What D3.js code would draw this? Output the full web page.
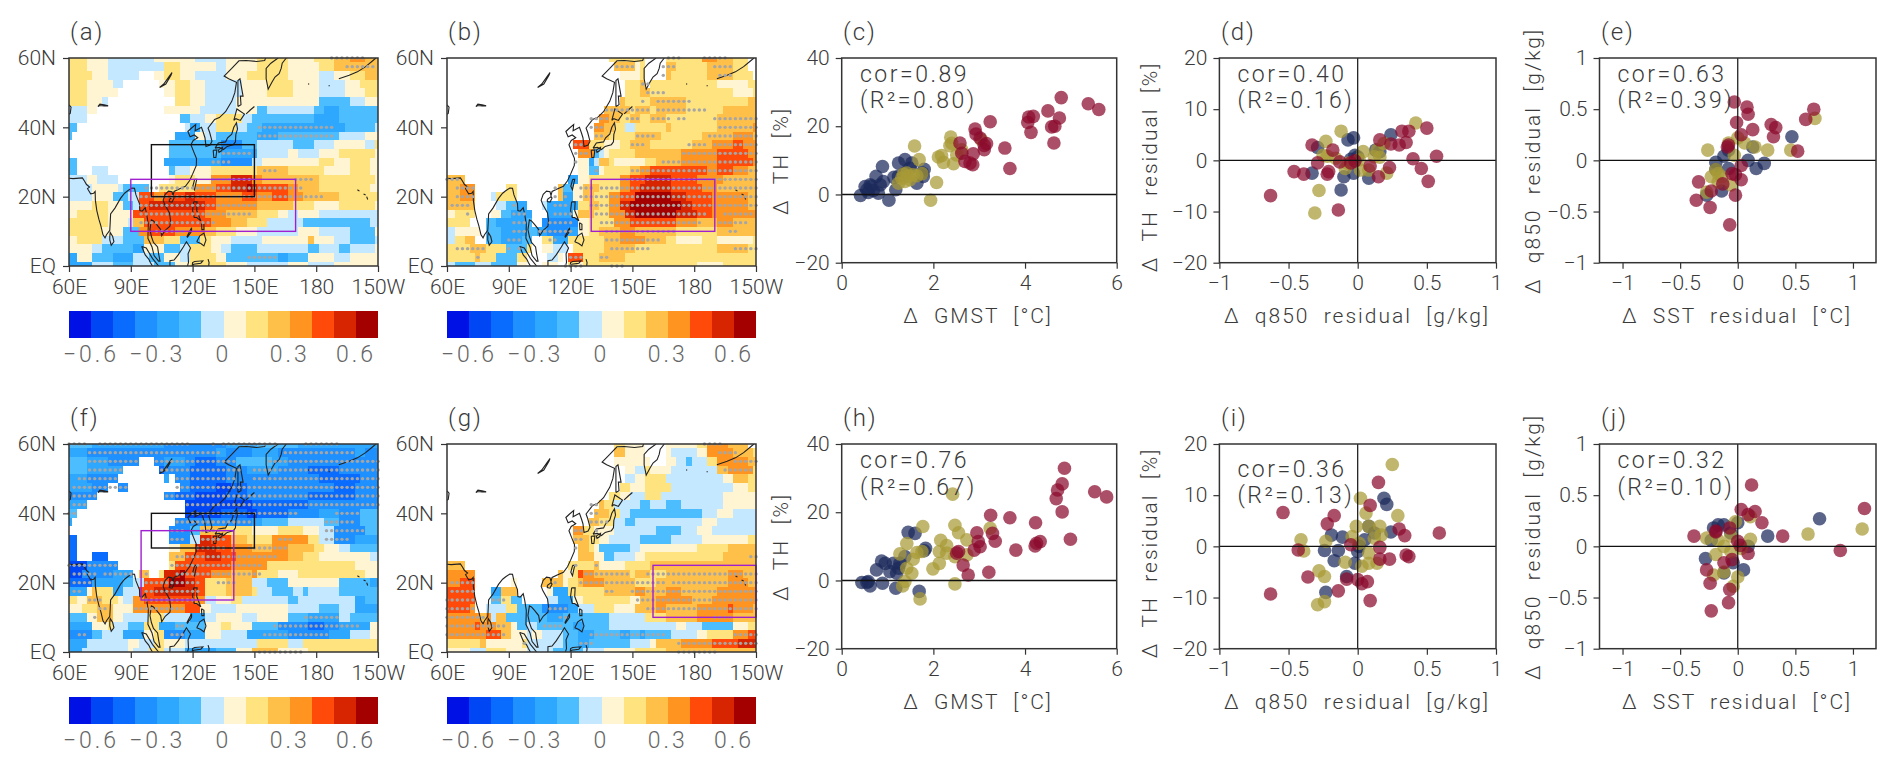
<!DOCTYPE html>
<html><head><meta charset="utf-8">
<script src="https://cdn.jsdelivr.net/npm/d3@7"></script>
<style>
html,body{margin:0;padding:0;background:#fff;overflow:hidden}
text{font-family:Roboto,"Liberation Sans",sans-serif;font-weight:300;fill:#3a3a3a;white-space:pre}
</style></head><body><svg id="c" width="1892" height="767"></svg>
<script>
// ---------- colour levels ----------
const levelBreaks=[-0.6,-0.5,-0.4,-0.3,-0.2,-0.1,0,0.1,0.2,0.3,0.4,0.5,0.6];
const levelColors=["#0011e6","#0046f5","#0a6cff","#1e90ff","#2ea8ff","#4cbdff","#c4e8ff","#fff5d2","#ffe37f","#ffc04a","#ff9520","#ff4a0a","#d62500","#a50000"];
const levelCodes="abcdefghijklmn";
const colorbarTicks=[-0.6,-0.3,0,0.3,0.6];
const lonTicks=[60,90,120,150,180,210];
const lonLabels=["60E","90E","120E","150E","180","150W"];
const latTicks=[0,20,40,60];
const latLabels=["EQ","20N","40N","60N"];

// ---------- gridded fields: rows from 60N to EQ, "level + last lon of the run" ----------
const mapA=[
"i67 h77 g100 h120 g135 h150 i165 h177 i187 j195 k202 j210",
"i67 h77 g105 i112 h130 g135 h150 i165 h180 i187 j210",
"i70 h77 g92 .100 h105 i112 h120 g135 h145 i165 h180 g187 h195 i202 j210",
"i67 h80 g85 .102 h110 i117 h125 g142 h155 i167 h180 g192 h200 i210",
"i67 h82 .105 h110 i117 h125 g142 h155 i167 h180 g192 h202 i210",
"i67 h75 g77 .110 i117 h125 g140 h165 h180 f195 g202 h210",
"g67 h72 .105 h122 g140 h150 f155 g177 f182 e190 f210",
"g67 .112 f117 g125 h130 i142 g147 f177 e190 f210",
"f62 .115 g117 e122 g130 i140 g145 f152 e192 f207 g210",
"f60 .110 e120 h125 g130 f150 e160 f190 g202 h210",
".107 f120 f132 d142 f150 g167 f177 g187 h202 g207 i210",
".107 f117 f132 e150 g165 h170 g180 h190 i207 h210",
"f62 .105 e117 e132 d147 g152 h165 h180 i187 h195 i205 h210",
"f62 .70 g77 .107 f110 g117 h127 i135 i150 j165 i182 h195 i205 h210",
"g67 h72 g82 .107 h110 i120 h127 k137 m147 k152 j165 j180 i207 h210",
"g70 h82 g85 f90 f97 .102 i120 k130 l137 m145 n147 m150 l165 k170 j180 i205 h210",
"g70 h80 f87 g92 l100 k105 l115 m120 l130 k142 l150 k157 l165 k172 j190 i210",
"h62 h70 i77 h85 f90 g92 l97 m125 l130 k150 j167 i177 h190 i207 h210",
"h62 i77 h85 h90 l97 l125 k135 j150 i160 h165 g170 h180 g210",
"i77 h87 g90 j95 l127 k137 j145 i155 g172 f205 g210",
"i75 h85 f92 k97 l110 k125 j130 i140 h150 g170 h180 g195 f207 h210",
"h62 i75 g85 f95 j105 i112 f122 i127 h137 g152 h175 j177 h187 g195 f207 g210",
"h70 g75 f90 e95 h105 f112 g117 i127 h132 g137 f150 g175 f180 g190 f195 g207 h210",
"e62 h70 f80 e90 g97 f105 h112 g117 i130 h135 f160 e165 f175 h187 g195 h210",
"e70 g80 f90 g100 f110 h117 i135 h145 g165 h175 g187 h210"];
const stipA=[[60,187.5,202.5],[57.5,195,207.5],[40,152.5,187.5],[37.5,152.5,187.5],[32.5,135,147.5],[30,130,137.5],[27.5,155,160],[25,130,147.5],[25,170,177.5],[22.5,97.5,172.5],[20,95,182.5],[17.5,95,150],[15,95,147.5],[12.5,95,130],[10,102.5,115],[2.5,147.5,160]];

const mapB=[
".137 i142 i155 .165 i182 k190 j197 i205 .210",
".140 j150 h152 i155 .165 j170 i185 j197 i205 .210",
".142 h152 i155 .165 j167 i185 j197 i207 .210",
".145 i152 j155 .157 i190 h205 i210",
".145 i152 j157 i177 i197 h207 i210",
".142 j145 i150 i157 j175 i205 j210",
".135 j147 i150 j157 i160 j175 i182 i192 j210",
".132 k137 j142 i147 j152 i157 j165 i190 j210",
".130 k135 j140 i145 g150 i165 j167 i190 j207 k210",
".130 j137 i150 j162 i182 j197 k207 j210",
".120 l127 i135 h142 i147 j157 i177 j187 k197 l202 k210",
".122 k130 f132 g135 h137 i150 j165 j172 k190 l205 k210",
".122 h127 e130 g132 j137 i140 h155 i160 j172 k190 l207 k210",
".122 h127 f132 h135 i140 i147 j152 k157 l185 k190 l197 k205 j210",
"j67 .117 e122 h127 i135 i142 k147 l155 m167 l180 k192 j210",
"j65 k72 .87 i92 .112 j115 f120 h125 j132 i142 k147 l152 m167 l182 k190 j210",
"j65 k72 .80 g82 i92 .112 j115 e120 h125 j130 i137 k142 l150 n167 m175 l187 k205 j210",
"j72 .82 g87 f92 e97 .105 g107 e122 i127 j132 i137 k142 m147 n172 m177 l187 k205 j210",
"h62 i72 .80 h85 f90 e100 .107 e120 h122 j130 i137 k145 m150 n170 m180 l187 k210",
"i70 .77 f82 e97 f100 .105 d122 h127 i140 k147 l170 k180 j190 k197 j210",
"g62 h75 .77 f85 e97 f102 e107 d117 e122 h127 i132 j142 k150 j170 i190 j210",
"g62 i67 j72 .77 f85 e95 f100 .105 i110 e117 i135 j142 k155 j165 i170 h182 i190 h207 i210",
"i70 j77 i87 f97 i100 .105 h110 g117 .120 i135 j150 i190 j205 i210",
"i72 j75 i82 f92 i97 .107 g112 h115 .117 l125 i132 j145 i210",
"g62 f72 g80 f92 h97 .105 h112 .117 i122 h125 i180 h192 i210"];
const stipB=[[60,167.5,172.5],[60,185,195],[57.5,142.5,150],[57.5,165,170],[57.5,190,197.5],[55,165,165],[55,192.5,197.5],[52.5,155,157.5],[50,157.5,165],[47.5,155,155],[47.5,162.5,177.5],[45,137.5,150],[45,152.5,157.5],[45,162.5,185],[42.5,130,137.5],[42.5,147.5,152.5],[42.5,160,167.5],[42.5,172.5,175],[42.5,190,210],[40,130,135],[40,192.5,210],[37.5,132.5,135],[37.5,152.5,160],[37.5,187.5,210],[35,122.5,125],[35,150,155],[35,177.5,185],[35,190,210],[32.5,122.5,127.5],[32.5,175,210],[30,122.5,122.5],[30,165,210],[27.5,132.5,132.5],[27.5,150,210],[25,60,65],[25,145,210],[22.5,65,72.5],[22.5,112.5,112.5],[22.5,125,130],[22.5,135,210],[20,65,72.5],[20,112.5,112.5],[20,117.5,117.5],[20,125,130],[20,132.5,210],[17.5,62.5,70],[17.5,92.5,92.5],[17.5,112.5,117.5],[17.5,130,190],[17.5,192.5,210],[15,70,70],[15,92.5,97.5],[15,112.5,120],[15,132.5,185],[15,195,207.5],[12.5,92.5,97.5],[12.5,110,120],[12.5,135,182.5],[12.5,192.5,205],[10,92.5,97.5],[10,105,120],[10,137.5,170],[10,197.5,200],[7.5,90,95],[7.5,110,112.5],[7.5,137.5,162.5],[5,65,77.5],[5,90,90],[5,95,95],[5,140,157.5],[5,200,210],[2.5,75,75],[2.5,120,125],[2.5,135,137.5],[0,117.5,125],[0,140,145]];

const mapF=[
"f70 e105 d135 e150 f170 e210",
"e67 d130 e135 d147 e160 d197 e202 d210",
"f67 e77 d92 .100 d105 e115 d120 c130 d140 f157 e165 d210",
"f67 e85 .102 c105 d117 c135 d145 e160 d175 c190 d210",
"e67 d82 .105 e107 .110 d117 c135 d180 c200 d210",
"e70 d77 .82 d87 .112 d117 c130 b137 c145 d187 c197 d210",
"d72 .105 d110 c120 b135 c145 d175 c197 d210",
"e67 .115 b147 c175 d210",
"f62 .115 b132 c145 b150 c165 d180 e190 d200 f210",
"e60 .110 d147 e152 f165 g182 f190 d200 f210",
".107 d117 f122 j135 i147 h160 i172 h180 g187 d202 f210",
"c62 .107 d117 g122 m127 l137 j145 i157 k175 i180 g187 d197 e210",
"c62 .107 h112 j120 m130 l137 k147 j157 k165 j177 i182 h190 g195 f210",
"c62 .70 c77 .107 j115 l125 m132 l140 k147 k165 j172 i180 h205 g210",
"b67 d82 .107 i110 l137 k145 k155 i165 i197 h210",
"b65 d80 e90 .92 j97 .102 i105 m112 n115 l127 k137 j147 k150 i160 h170 i202 h210",
"c70 e85 f90 g95 l107 n115 m120 l125 i135 j147 g155 f165 h190 f205 e210",
"e67 h70 j72 i80 e85 g92 l100 m120 l125 i135 j147 i150 g157 f167 g172 f175 g190 f210",
"i62 h67 j75 i82 h85 g90 k95 l120 k125 g130 h137 i142 g165 f170 g197 e202 f210",
"h65 i72 j80 h90 k115 l122 h127 g140 h165 g180 f190 g197 e210",
"f67 h72 j80 h85 g97 i105 g117 e125 g130 h142 g150 h165 f175 e190 g195 f210",
"e70 h77 i80 g87 f95 i102 e110 f125 h132 i137 h147 f160 d175 c182 d190 e205 h210",
"d70 f75 g85 e95 h100 i105 d115 e125 h132 g145 e165 d185 e195 g205 h210",
"e67 g87 h92 g100 i105 h115 g137 g150 i165 g172 i210",
"e65 g87 h90 g97 i105 g115 e130 f140 h147 j160 h175 i210"];
const stipF=[[60,60,67.5],[60,75,117.5],[60,130,130],[60,135,160],[60,175,190],[57.5,70,132.5],[57.5,165,197.5],[55,70,92.5],[55,102.5,140],[55,157.5,210],[52.5,70,85],[52.5,105,142.5],[52.5,150,210],[50,65,82.5],[50,112.5,140],[50,150,210],[47.5,62.5,80],[47.5,82.5,87.5],[47.5,112.5,210],[45,62.5,72.5],[45,107.5,210],[42.5,62.5,67.5],[42.5,117.5,210],[40,60,62.5],[40,120,170],[40,190,200],[37.5,112.5,147.5],[37.5,185,197.5],[35,110,115],[35,125,132.5],[35,185,202.5],[32.5,110,115],[32.5,125,135],[32.5,162.5,167.5],[32.5,185,195],[30,122.5,135],[30,147.5,165],[27.5,112.5,160],[25,60,82.5],[25,110,152.5],[22.5,62.5,72.5],[22.5,77.5,90],[22.5,97.5,97.5],[22.5,112.5,152.5],[20,62.5,70],[20,97.5,122.5],[20,132.5,140],[17.5,62.5,65],[17.5,97.5,122.5],[15,70,75],[15,97.5,120],[12.5,75,77.5],[12.5,92.5,115],[10,72.5,72.5],[10,175,190],[7.5,112.5,115],[7.5,160,200],[5,65,67.5],[5,110,115],[5,155,185],[0,152.5,172.5]];

const mapG=[
".140 i145 h155 .165 h180 i185 k195 j205 .210",
".140 j145 h155 .165 h167 g180 h185 k197 j207 i210",
".140 h157 .165 h170 g175 f177 g185 i190 k205 j210",
".145 h150 g155 i157 h167 g190 j195 k207 i210",
".145 g150 h155 i165 g192 h197 j205 i210",
".142 i147 h155 i167 g197 h205 i210",
".137 i142 h147 g155 i162 g192 h210",
".132 j135 i140 g152 f157 g165 f172 g192 h210",
".130 j137 i142 g147 f152 f182 g190 h197 g210",
".127 j132 i140 g145 f150 g182 h190 g210",
".120 k125 i130 h140 g160 f172 g180 h187 g210",
".120 j127 i132 h137 g152 f167 g182 h205 i210",
".122 j127 i130 h132 f147 g152 h160 h180 i195 j210",
".122 j130 h135 f140 g150 h155 i192 j210",
"j67 .117 i130 j132 h145 i157 j210",
"k72 .112 j115 h120 i122 l125 k130 j147 i150 j157 i165 j195 k202 j210",
"k65 l72 .90 h92 .105 j115 h117 i122 j125 k135 j150 i160 j195 k205 j210",
"l72 .80 e85 j92 .107 h110 e117 i135 j150 k155 j165 k172 j190 k210",
"l72 .80 f85 i90 f95 .107 g112 e120 h125 i147 h152 j160 k177 j187 k210",
"l70 k72 .77 g87 i92 f105 d117 e122 g130 i140 h150 j160 k165 j180 k195 l197 k207 j210",
"k75 j77 k80 g82 j87 f107 e115 f137 g155 i165 j180 k197 j210",
"k72 l75 k82 j90 h92 f97 g102 f120 e125 f137 g170 h175 g182 f197 h205 i210",
"k77 l85 j90 h97 g100 h105 g115 f122 e130 f142 e147 f152 e155 f167 g180 h185 i197 k205 l210",
"i75 j77 h95 i97 g115 f122 e127 f147 g157 h160 j172 k187 l200 m210",
"h70 g77 i87 h97 g110 f125 g135 h150 i165 j210"];
const stipG=[[60,185,192.5],[57.5,192.5,200],[55,200,210],[52.5,195,207.5],[42.5,130,132.5],[40,130,132.5],[37.5,130,137.5],[35,122.5,125],[35,132.5,132.5],[32.5,122.5,125],[30,122.5,122.5],[27.5,207.5,210],[25,122.5,122.5],[25,132.5,132.5],[22.5,127.5,147.5],[22.5,157.5,210],[20,62.5,72.5],[20,112.5,112.5],[20,125,165],[20,170,210],[17.5,62.5,72.5],[17.5,137.5,140],[17.5,150,210],[15,60,72.5],[15,82.5,87.5],[15,152.5,210],[12.5,60,72.5],[12.5,110,117.5],[12.5,157.5,210],[10,60,77.5],[10,115,117.5],[10,190,197.5],[7.5,60,87.5],[7.5,107.5,115],[5,60,87.5],[5,130,165],[5,200,210],[2.5,97.5,97.5],[2.5,125,130],[2.5,172.5,210],[0,172.5,190]];

// ---------- region boxes: lonW, lonE, latS, latN ----------
const boxesA=[[100,150,20,35,"#111"],[90,170,10,25,"#a020d0"]];
const boxesB=[[130,190,10,25,"#a020d0"]];
const boxesF=[[100,150,30,40,"#111"],[95,140,15,35,"#a020d0"]];
const boxesG=[[160,210,10,25,"#a020d0"]];

// ---------- coastlines [lon,lat] ----------
const coastMain=[[60,25.3],[62,25.2],[66.5,25.4],[67.5,24.5],[68.5,23.5],[70,22.8],[69,22.3],[70.5,20.8],[72,21],[72.7,21.5],[72.8,19],[73.5,16],[74.5,13.5],[75.5,11.5],[76.5,9],[77.5,8.1],[78.2,9],[79.8,10.3],[80,12.5],[80.2,15],[82.3,16.7],[85,19.5],[87,21],[88.5,21.7],[90.5,22.5],[91.8,22.4],[92.5,20.5],[94.2,18],[94.4,16],[95.5,15.8],[97,16.8],[97.7,15],[98.5,12],[98.3,8],[100.3,5.5],[101.3,3],[103.5,1.4],[104.2,1.4],[103.5,3.5],[103,5.5],[101,6.8],[100,8.5],[99.3,10.5],[100,13.3],[101,13],[102.5,12],[104.5,10.5],[105,8.7],[106.7,10.3],[109,11.5],[109.3,13],[108.8,15.3],[106.5,17.7],[105.7,19],[106.7,20.7],[108.3,21.6],[110,21.4],[110.5,20.3],[111,21.5],[113.5,22.2],[116.5,23],[118.5,24.6],[120,26.5],[121.8,29],[121.9,31],[120.5,33],[119.2,35],[120.3,36.2],[122.5,37],[120.8,37.8],[118.8,37.3],[117.7,38.8],[119.5,39.8],[121.5,40.8],[121.2,39],[124.3,40],[125.2,38.5],[126,37],[126.5,34.5],[128.5,34.9],[129.4,36],[128.3,38.5],[127.5,39.8],[129.7,41.5],[130.7,42.3],[133,42.8],[136,44.5],[139,47.5],[140.5,50],[141.3,53],[137.5,54],[135.3,54.8],[139,57],[142.5,59.2],[146,59.3],[151,59],[155,59.3],[156,61]];
const coastKamchatka=[[161.5,60],[158,58.5],[155.7,57],[155.7,54],[156.7,51],[158.5,53],[160,54.5],[162,55.5],[163,57],[163.5,58.5],[165.5,60]];
const coastHonshu=[[130.9,34],[132.5,35.5],[136,35.8],[137,37],[139,38],[140,40],[141.3,41.3],[141.8,39.5],[141,38],[140.8,35.8],[139.8,35],[138,34.7],[136.8,34.5],[135,33.6],[133,34.2],[130.9,34]];
const coastKyushu=[[130,33.4],[131.8,33.5],[131.3,31.3],[130.3,31.3],[130,33.4]];
const coastShikoku=[[132.5,33.5],[134.5,34.2],[134.2,33.3],[132.8,32.8],[132.5,33.5]];
const coastHokkaido=[[140,42],[141.5,45.3],[145.2,43.8],[143.2,42],[141,42.5],[140,42]];
const coastSakhalin=[[142,46],[143.5,46.5],[143.2,49],[144.5,49],[143,54],[142,53.5],[142,50],[142,46]];
const coastKuril=[[146,43.9],[148,45],[150,46]];
const coastTaiwan=[[121,25],[122,25],[120.9,22],[120.1,23],[121,25]];
const coastHainan=[[108.7,19.2],[110.5,20],[111,19.6],[110,18.4],[108.7,18.6],[108.7,19.2]];
const coastLuzon=[[120.5,18.5],[122.2,18.5],[122,16],[124,13],[122,14],[120.8,14],[120,16],[120.5,18.5]];
const coastSamar=[[124.3,12.5],[125.5,12],[125.5,10.5],[124.5,10.5],[124.3,12.5]];
const coastMindanao=[[122,7],[123.5,8.7],[125.5,9.5],[126.5,7.5],[125.5,5.8],[124,6.5],[122,7]];
const coastPalawan=[[117.2,8.4],[119.5,11],[119.5,10],[117.5,8.3],[117.2,8.4]];
const coastBorneo=[[109,0],[109,1.5],[111,1.7],[113,3.2],[115.5,5.5],[117,7],[119,5.2],[117.8,3.5],[118,1],[117.5,0]];
const coastSumatraN=[[95.3,5.6],[97.5,5.2],[100.5,2.2],[103.5,0]];
const coastSumatraW=[[95.3,5.6],[97,3.2],[98.7,2],[99.5,1],[100.5,0]];
const coastCelebes=[[119.8,0],[120,1],[121,1.3],[125,1.5],[124,0.8],[120.5,0.5],[120,0]];
const coastHalmahera=[[127.5,2],[128,1],[127.8,0]];
const coastSriLanka=[[79.8,8.5],[80,9.7],[81.2,8.5],[81.8,7],[80.5,6],[79.8,7.5],[79.8,8.5]];
const coastBaikal=[[104,51.5],[106,52.5],[109,55],[110,55.8],[109.5,55],[107,52.5],[104,51.5]];
const coastBalkhash=[[74,46],[75,46.7],[77,46.5],[79,46.2],[77,46.2],[75,46.3],[74,46]];
const coastAral=[[60,46.5],[61,45.8],[60.6,44],[60,43.8]];
const coastAlaska=[[191,54],[196,55],[200,56],[204,57.5],[207,59],[209,60]];
const coastHawaii1=[[200,22],[201,21.6]];
const coastHawaii2=[[203,20.8],[204,20.5]];
const coastHawaii3=[[204.5,20],[205,19.2]];
const coastDots1=[[176,52.5],[176.6,52.5]];
const coastDots2=[[186,52],[186.6,52]];
const coastLines=[coastMain,coastKamchatka,coastHonshu,coastKyushu,coastShikoku,coastHokkaido,coastSakhalin,coastKuril,coastTaiwan,coastHainan,coastLuzon,coastSamar,coastMindanao,coastPalawan,coastBorneo,coastSumatraN,coastSumatraW,coastCelebes,coastHalmahera,coastSriLanka,coastBaikal,coastBalkhash,coastAral,coastAlaska,coastHawaii1,coastHawaii2,coastHawaii3,coastDots1,coastDots2];

// ---------- scatter data [x,y] ----------
const cNavy=[[.89,8.2],[1.38,10.2],[1.24,9.2],[1.53,9.2],[1.8,7.4],[1.76,6.3],[1.78,5.3],[1.64,3.3],[1.14,5],[1.18,1.4],[1.03,-1.7],[.75,5.3],[.91,3.8],[.84,2.8],[.62,2.8],[.51,2.3],[.41,-.3],[.58,.6],[.69,1.2],[.8,.4],[.55,1.4],[.65,2.5],[1.38,6.3],[1.49,7.7],[1.24,5.3]];
const cOlive=[[1.59,14.2],[1.69,10.2],[2.38,16.8],[2.36,14.3],[2.4,15],[3.05,16],[2.11,11],[2.18,11.4],[2.22,9.4],[2.44,9],[2.51,11.6],[2.62,13.1],[2.07,3.5],[1.94,-1.7],[1.75,6.1],[1.42,6.3],[1.31,4.8],[1.38,3.8],[1.45,5.3],[1.56,5.8],[1.24,3.3],[1.35,6],[1.49,4.3],[1.64,5.5]];
const cMaroon=[[4.79,28.4],[5.38,26.6],[5.61,24.9],[4.5,24.5],[4.75,22.4],[4.08,22.7],[4.18,22.9],[4.06,21.1],[4.58,19.8],[4.65,20],[4.13,18.2],[4.63,15.1],[3.24,21.3],[2.91,19.2],[2.93,17.7],[3.02,16.5],[2.58,15.1],[3.16,14.9],[3.11,13.1],[3.56,13.6],[3.67,7.6],[2.62,12.1],[2.87,11.9],[2.69,9.7],[2.8,9.2],[2.86,8.7],[3.11,14.4]];
const dNavy=[[-.03,4.4],[-.07,4],[-.29,2.5],[-.33,-2.5],[-.12,-5.8],[-.1,-3.2],[-.03,-2.5],[.08,-3.5],[.13,2],[.24,5],[-.02,1],[0,.7],[-.05,.2],[.16,1.7]];
const dOlive=[[-.31,-10.3],[-.28,-5.9],[-.23,3.7],[-.12,5.7],[.42,7.3],[-.22,.8],[-.16,.4],[-.09,-1.6],[-.07,-.6],[.04,1.7],[.02,-1.9],[.08,-1.9],[.12,.7],[.16,.6],[.21,-2.5],[.19,3.3],[-.25,1],[.14,2],[.01,.1]];
const dMaroon=[[-.63,-6.9],[-.46,-2.2],[-.39,-2.7],[-.33,3],[-.29,-.5],[-.22,-2.7],[-.21,-2.2],[-.18,2],[-.13,-.3],[-.14,-9.7],[-.05,-.5],[.09,-1.1],[.15,-3.2],[.23,-1.4],[.16,4],[.24,3.2],[.3,3],[.35,3.5],[.32,5.7],[.37,5.7],[.5,6.3],[.4,.3],[.46,-1.6],[.51,-4.1],[.57,.8],[-.02,-.1]];
const eNavy=[[.47,.23],[.13,.13],[.23,-.03],[.16,-.08],[.09,0],[-.19,-.02],[-.12,.04],[-.08,.1],[-.14,-.3],[-.27,-.34],[-.08,-.08],[-.19,-.09]];
const eOlive=[[.67,.41],[.46,.1],[.26,.1],[-.26,.1],[.15,.13],[.06,.17],[0,.22],[-.08,.17],[-.03,.05],[-.19,-.09],[-.17,-.13],[-.23,-.16],[-.14,-.16],[-.06,-.24],[-.27,-.31],[-.17,-.21]];
const eMaroon=[[-.03,.57],[.08,.52],[.09,.45],[.66,.5],[.59,.4],[-.01,.37],[.13,.3],[.29,.35],[.33,.32],[.31,.23],[-.08,.15],[-.09,.13],[.52,.09],[.03,.25],[.03,-.05],[-.05,-.13],[.03,-.19],[-.02,-.14],[-.34,-.21],[-.23,-.3],[-.13,-.23],[-.36,-.39],[-.24,-.46],[-.02,-.34],[-.07,-.63]];
const hNavy=[[1.45,14.1],[1.6,13.8],[1.83,9.4],[1.8,8.7],[1.38,7],[.87,5.7],[.95,5],[.76,3.1],[1.13,5],[1.27,5],[1.05,2.6],[1.2,2.1],[.58,-.3],[.44,-.6],[.62,-1.6],[.55,-.6],[.89,-.8],[1.18,-2.3],[1.69,-3.2],[1.24,3.6]];
const hOlive=[[2.42,25.3],[1.77,15.8],[1.42,10.8],[2.47,16.2],[2.55,14],[2.16,11.8],[3.24,15.3],[2.73,11.9],[2.29,10.2],[2.13,8.5],[2.29,8],[2.47,7],[2.73,7.5],[2.13,5],[1.99,3.4],[2.47,-1],[1.71,-5.4],[1.64,8.2],[1.75,8.5],[1.56,6.2],[1.27,7.8],[1.42,3.6],[1.53,2.1],[1.38,-.3],[1.33,-1.6]];
const hMaroon=[[4.86,32.9],[4.81,28.3],[4.71,26.5],[4.68,24],[4.81,20.1],[5.52,26],[5.78,24.5],[4.99,12.1],[4.23,16.9],[4.33,11.4],[4.25,10.9],[4.22,10.1],[3.8,8.9],[3.67,18.4],[3.25,19.1],[2.95,14],[3.29,13.8],[3.35,11.5],[2.98,11.4],[3.02,9.9],[2.89,8.9],[2.51,8],[2.65,4.5],[2.76,1.6],[3.21,2.4],[2.55,8.5]];
const iNavy=[[.19,9.4],[.21,8.2],[-.23,-9],[-.19,2.2],[-.11,1.8],[-.24,-.8],[-.14,-.8],[-.17,-2.8],[-.02,-3.3],[-.08,-5.9],[.08,3.9],[.24,2.8],[.05,1.3],[0,-1],[.01,0],[.12,2.6]];
const iOlive=[[.25,16],[.02,9.4],[.06,6.5],[.29,6],[-.41,1.3],[-.39,-.9],[-.23,1],[-.28,-4.8],[-.24,-5.9],[-.29,-11.4],[-.24,-10.8],[-.09,-3.1],[.03,-3.9],[.08,-3.3],[.14,-3.3],[-.01,3.9],[.08,3.9],[.16,3.9],[.17,2.2],[-.04,1.9],[.01,.6],[.08,-1.3],[.12,1.6]];
const iMaroon=[[-.63,-9.3],[-.54,6.6],[-.43,-.7],[-.36,-6],[-.22,4.4],[-.17,6],[-.14,-8.7],[-.08,-6.4],[-.05,.3],[0,-6.5],[.03,-7.3],[.07,-6.9],[.09,8],[.15,12.5],[.09,-10.6],[.16,-.2],[.16,-2.5],[.23,-2.5],[.3,3.4],[.34,2.1],[.35,-1.7],[.37,-2],[.59,2.6]];
const jNavy=[[.71,.27],[.26,.1],[-.28,-.12],[-.21,.18],[-.17,.21],[-.12,.21],[0,.23],[.05,-.23],[-.12,-.26],[-.23,.06],[-.06,.13],[-.04,-.16],[.09,0]];
const jOlive=[[1.08,.17],[.61,.12],[.11,.29],[-.02,.24],[.11,.07],[-.27,.08],[-.17,.06],[-.06,.1],[-.12,0],[-.19,-.08],[-.06,-.05],[-.12,-.25],[-.21,-.28],[0,-.3],[-.04,-.39],[.03,-.02]];
const jMaroon=[[.12,.6],[1.1,.37],[.03,.36],[.15,.34],[.09,.31],[.21,.23],[.39,.1],[-.38,.1],[-.07,.18],[-.19,.15],[-.19,.14],[.89,-.04],[0,.05],[.02,.01],[.09,-.07],[-.12,-.16],[-.05,-.13],[-.27,-.23],[-.24,-.36],[-.07,-.42],[-.08,-.55],[-.23,-.63]];

const gmstTicks=[0,2,4,6], thTicks=[-20,0,20,40], thResTicks=[-20,-10,0,10,20], qTicks=[-1,-0.5,0,0.5,1], sstTicks=[-1,-0.5,0,0.5,1];

// ---------- drawing ----------
const svg=d3.select("#c");
const INK="#333";
const colorScale=d3.scaleThreshold().domain(levelBreaks).range(levelColors);
const levelValue=c=>-0.65+levelCodes.indexOf(c)*0.1;
function decodeRow(s){
  const out=[];let i=0;
  for(const t of s.split(" ")){
    const end=Math.round((parseFloat(t.slice(1))-60)/2.5);
    while(i<=end&&i<61){out.push(t[0]==="."?null:levelValue(t[0]));i++;}
  }
  while(i<61){out.push(out[out.length-1]);i++;}
  return out;
}
function fmt(v){return (v<0?"\u2212":"")+String(Math.abs(v));}
let clipId=0;
function mapPanel(left,top,label,labelY,rows,stip,boxes){
  const W=309,H=208;
  const x=d3.scaleLinear().domain([60,210]).range([left,left+W]);
  const y=d3.scaleLinear().domain([0,60]).range([top+H,top]);
  const id="clip"+(clipId++);
  svg.append("clipPath").attr("id",id).append("rect").attr("x",left).attr("y",top).attr("width",W).attr("height",H);
  const g=svg.append("g").attr("clip-path",`url(#${id})`);
  const cells=[];
  rows.forEach((r,ri)=>{decodeRow(r).forEach((v,ci)=>{if(v!==null)cells.push({lon:60+ci*2.5,lat:60-ri*2.5,v});});});
  g.selectAll("rect").data(cells).join("rect")
    .attr("x",d=>x(d.lon-1.25)).attr("width",d=>x(d.lon+1.25)-x(d.lon-1.25))
    .attr("y",d=>y(d.lat+1.25)).attr("height",d=>y(d.lat-1.25)-y(d.lat+1.25))
    .attr("fill",d=>colorScale(d.v)).attr("shape-rendering","crispEdges");
  const line=d3.line().x(d=>x(d[0])).y(d=>y(d[1]));
  g.selectAll("path").data(coastLines).join("path").attr("d",line).attr("fill","none").attr("stroke","#222").attr("stroke-width",1.1);
  const dots=[];
  stip.forEach(([lat,a,b])=>{for(let lon=a;lon<=b;lon+=2.5)dots.push([lon,lat]);});
  svg.append("g").selectAll("circle").data(dots).join("circle").attr("cx",d=>x(d[0])).attr("cy",d=>y(d[1])).attr("r",1.7).attr("fill","#a6a6a6");
  svg.append("g").selectAll("rect").data(boxes).join("rect")
    .attr("x",d=>x(d[0])).attr("width",d=>x(d[1])-x(d[0]))
    .attr("y",d=>y(d[3])).attr("height",d=>y(d[2])-y(d[3]))
    .attr("fill","none").attr("stroke",d=>d[4]).attr("stroke-width",1.4);
  const ax=svg.append("g").attr("transform",`translate(0,${top+H})`).call(d3.axisBottom(x).tickValues(lonTicks).tickFormat((d,i)=>lonLabels[i]).tickSize(6).tickPadding(7));
  const ay=svg.append("g").attr("transform",`translate(${left},0)`).call(d3.axisLeft(y).tickValues(latTicks).tickFormat((d,i)=>latLabels[i]).tickSize(6).tickPadding(7));
  [ax,ay].forEach(a=>{a.selectAll(".domain").remove();a.selectAll("line").attr("stroke",INK).attr("stroke-width",1.2);a.selectAll("text").style("font-size","21px").attr("font-family",null).attr("fill","#3a3a3a");});
  svg.append("rect").attr("x",left).attr("y",top).attr("width",W).attr("height",H).attr("fill","none").attr("stroke",INK).attr("stroke-width",1.5);
  svg.append("text").attr("x",left+1).attr("y",labelY).style("font-size","24px").style("letter-spacing","2px").text(label);
  // colour bar
  const cb=d3.scaleLinear().domain([-0.7,0.7]).range([left,left+W]);
  const edges=[-0.7,...levelBreaks,0.7];
  const cy=top+H+45;
  svg.append("g").selectAll("rect").data(levelColors).join("rect")
    .attr("x",(d,i)=>cb(edges[i])).attr("width",(d,i)=>cb(edges[i+1])-cb(edges[i]))
    .attr("y",cy).attr("height",26.5).attr("fill",d=>d).attr("shape-rendering","crispEdges");
  svg.append("g").selectAll("text").data(colorbarTicks).join("text")
    .attr("x",d=>cb(d)).attr("y",cy+51).attr("text-anchor","middle")
    .style("font-size","23px").style("letter-spacing","3px").style("fill","#666").text(fmt);
}
function scatterPanel(p){
  const {left,right,top,label,labelX,labelY,xdom,ydom,xt,yt,xl,xlx,yl,ylx,yly,cor,r2,cx,cy1,cy2,nv,ol,mr,vz}=p;
  const H=204.7;
  const x=d3.scaleLinear().domain(xdom).range([left,right]);
  const y=d3.scaleLinear().domain(ydom).range([top+H,top]);
  [[nv,"#1c2a5c"],[ol,"#a89a36"],[mr,"#8a0a2c"]].forEach(([pts,col])=>{
    svg.append("g").selectAll("circle").data(pts).join("circle")
      .attr("cx",d=>x(d[0])).attr("cy",d=>y(d[1])).attr("r",6.8).attr("fill",col).attr("fill-opacity",0.72);
  });
  svg.append("line").attr("x1",left).attr("x2",right).attr("y1",y(0)).attr("y2",y(0)).attr("stroke","#111").attr("stroke-width",1.4);
  if(vz)svg.append("line").attr("x1",x(0)).attr("x2",x(0)).attr("y1",top).attr("y2",top+H).attr("stroke","#111").attr("stroke-width",1.2);
  const ax=svg.append("g").attr("transform",`translate(0,${top+H})`).call(d3.axisBottom(x).tickValues(xt).tickFormat(fmt).tickSize(6).tickPadding(6));
  const ay=svg.append("g").attr("transform",`translate(${left},0)`).call(d3.axisLeft(y).tickValues(yt).tickFormat(fmt).tickSize(6).tickPadding(6));
  [ax,ay].forEach(a=>{a.selectAll(".domain").remove();a.selectAll("line").attr("stroke",INK).attr("stroke-width",1.2);a.selectAll("text").style("font-size","21px").attr("font-family",null).attr("fill","#3a3a3a");});
  svg.append("rect").attr("x",left).attr("y",top).attr("width",right-left).attr("height",H).attr("fill","none").attr("stroke",INK).attr("stroke-width",1.5);
  svg.append("text").attr("x",labelX).attr("y",labelY).style("font-size","24px").style("letter-spacing","2px").text(label);
  svg.append("text").attr("x",cx).attr("y",cy1).style("font-size","23px").style("letter-spacing","2.5px").text(cor);
  svg.append("text").attr("x",cx).attr("y",cy2).style("font-size","23px").style("letter-spacing","2.5px").text(r2);
  svg.append("text").attr("x",xlx).attr("y",top+265).attr("text-anchor","middle").style("font-size","21px").style("letter-spacing","2px").text(xl);
  svg.append("text").attr("transform",`translate(${ylx},${yly}) rotate(-90)`).attr("text-anchor","middle").style("font-size","21px").style("letter-spacing","2px").text(yl);
}
const T1=58,T2=444;
mapPanel(69,T1,"(a)",40,mapA,stipA,boxesA);
mapPanel(447,T1,"(b)",40,mapB,stipB,boxesB);
mapPanel(69,T2,"(f)",426,mapF,stipF,boxesF);
mapPanel(447,T2,"(g)",426,mapG,stipG,boxesG);
const XL1="\u0394  GMST  [\u00b0C]",YL1="\u0394  TH  [%]",XL2="\u0394  q850  residual  [g/kg]",YL2="\u0394  TH  residual  [%]",XL3="\u0394  SST  residual  [\u00b0C]",YL3="\u0394  q850  residual  [g/kg]";
const gm={left:841.7,right:1116.7,xdom:[0,6],ydom:[-20,40],xt:gmstTicks,yt:thTicks,xl:XL1,xlx:978,yl:YL1,ylx:788,labelX:843,cx:860};
const qm={left:1219.4,right:1496,xdom:[-1,1],ydom:[-20,20],xt:qTicks,yt:thResTicks,xl:XL2,xlx:1357,yl:YL2,ylx:1157,labelX:1221,cx:1237.5,vz:true};
const sm={left:1599.5,right:1876,xdom:[-1.2,1.2],ydom:[-1,1],xt:sstTicks,yt:qTicks,xl:XL3,xlx:1737,yl:YL3,ylx:1540,labelX:1601,cx:1617.5,vz:true};
scatterPanel({...gm,top:T1,yly:161,label:"(c)",labelY:40,cor:"cor=0.89",r2:"(R\u00b2=0.80)",cy1:82,cy2:108,nv:cNavy,ol:cOlive,mr:cMaroon});
scatterPanel({...qm,top:T1,yly:167,label:"(d)",labelY:40,cor:"cor=0.40",r2:"(R\u00b2=0.16)",cy1:82,cy2:108,nv:dNavy,ol:dOlive,mr:dMaroon});
scatterPanel({...sm,top:T1,yly:161,label:"(e)",labelY:40,cor:"cor=0.63",r2:"(R\u00b2=0.39)",cy1:82,cy2:108,nv:eNavy,ol:eOlive,mr:eMaroon});
scatterPanel({...gm,top:T2,yly:547,label:"(h)",labelY:426,cor:"cor=0.76",r2:"(R\u00b2=0.67)",cy1:468,cy2:495,nv:hNavy,ol:hOlive,mr:hMaroon});
scatterPanel({...qm,top:T2,yly:553,label:"(i)",labelY:426,cor:"cor=0.36",r2:"(R\u00b2=0.13)",cy1:477,cy2:503,nv:iNavy,ol:iOlive,mr:iMaroon});
scatterPanel({...sm,top:T2,yly:547,label:"(j)",labelY:426,cor:"cor=0.32",r2:"(R\u00b2=0.10)",cy1:468,cy2:495,nv:jNavy,ol:jOlive,mr:jMaroon});
</script></body></html>
